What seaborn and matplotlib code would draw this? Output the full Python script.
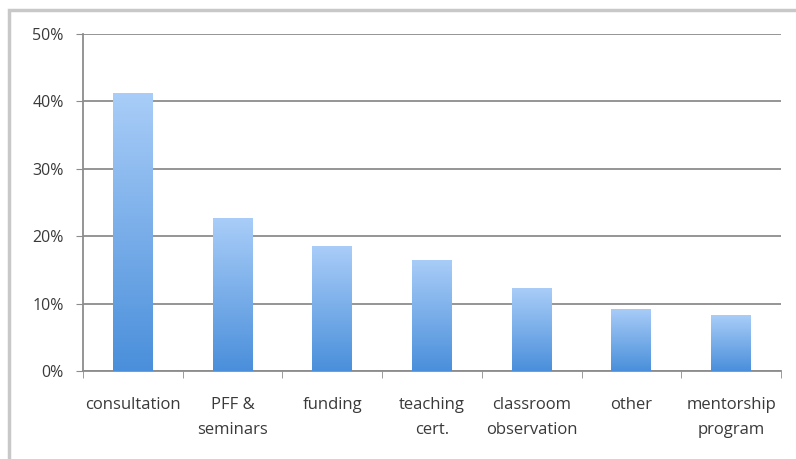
import numpy as np
import pandas as pd
import seaborn as sns
import matplotlib.pyplot as plt
from matplotlib.colors import LinearSegmentedColormap
from matplotlib.patches import Rectangle
from matplotlib.ticker import PercentFormatter, FixedLocator

categories = ['consultation', 'PFF &\nseminars', 'funding', 'teaching\ncert.',
              'classroom\nobservation', 'other', 'mentorship\nprogram']
shares = [41.2, 22.7, 18.5, 16.5, 12.3, 9.2, 8.3]

df = pd.DataFrame({'category': categories, 'share': shares})

sns.set_style('white')
plt.rcParams['font.family'] = ['Open Sans', 'DejaVu Sans']

fig = plt.figure(figsize=(7.96, 4.59), dpi=100)
ax = fig.add_axes([83 / 796, 1 - 371 / 459, (781 - 83) / 796, (371 - 34) / 459])

sns.barplot(data=df, x='category', y='share', color='#7fb2ea', width=0.4, ax=ax,
            zorder=3)

# vertical gradient on each bar
cmap = LinearSegmentedColormap.from_list('bar', ['#4a8fdb', '#a9cdf8'])
grad = np.linspace(0, 1, 256).reshape(-1, 1)
for bar in ax.patches:
    x0, y0 = bar.get_x(), bar.get_y()
    w, h = bar.get_width(), bar.get_height()
    img = ax.imshow(grad, cmap=cmap, aspect='auto', origin='lower',
                    extent=[x0, x0 + w, y0, y0 + h], zorder=4)
    img.set_clip_path(bar)
    bar.set_edgecolor('none')

ax.set_xlim(-0.5, len(categories) - 0.5)
ax.set_ylim(0, 50)
ax.set_yticks(range(0, 51, 10))
ax.yaxis.set_major_formatter(PercentFormatter(decimals=0))
ax.yaxis.grid(True, color='#8c8c8c', linewidth=1.3, zorder=0)
ax.set_axisbelow(True)

# ticks between categories like the spreadsheet style
ax.xaxis.set_minor_locator(FixedLocator(np.arange(-0.5, len(categories), 1)))
ax.tick_params(axis='x', which='major', length=0, pad=19, labelsize=12,
               labelcolor='#3a3a3a')
ax.tick_params(axis='x', which='minor', length=5, color='#8c8c8c', direction='out',
               bottom=True)
ax.tick_params(axis='y', length=5, color='#8c8c8c', left=True, labelsize=11.5,
               labelcolor='#3a3a3a', pad=9)
for lbl in ax.get_xticklabels():
    lbl.set_linespacing(1.7)

for side in ['top', 'right']:
    ax.spines[side].set_visible(False)
for side in ['left', 'bottom']:
    ax.spines[side].set_color('#8c8c8c')
    ax.spines[side].set_linewidth(1.3)

ax.set_xlabel('')
ax.set_ylabel('')

# light frame around the chart
fig.patches.append(Rectangle((9 / 796, -0.1), 1.2, 1 - 10 / 459 + 0.1,
                             transform=fig.transFigure, fill=False,
                             edgecolor='#c8c8c8', linewidth=2.5, zorder=0))

fig.savefig('out.png', dpi=100)
